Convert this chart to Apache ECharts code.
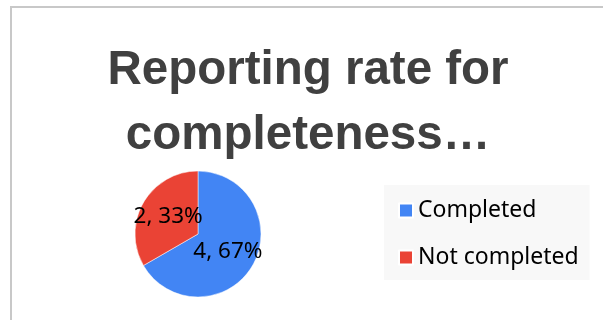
<!DOCTYPE html>
<html>
<head>
<meta charset="utf-8">
<script src="https://cdn.jsdelivr.net/npm/echarts@6/dist/echarts.min.js"></script>
<style>html,body{margin:0;padding:0;background:#fff}#c{width:603px;height:320px}</style>
</head>
<body>
<div id="c"></div>
<script>
var categories = ["Completed", "Not completed"];
var values = [4, 2];
var colors = ["#4285F4", "#EA4335"];
var titleText = "Reporting rate for\ncompleteness\u2026";

var chart = echarts.init(document.getElementById('c'), null, {renderer: 'canvas'});
var total = values.reduce(function (a, b) { return a + b; }, 0);
chart.setOption({
  animation: false,
  backgroundColor: '#ffffff',
  graphic: [{
    type: 'rect', silent: true, z: -1,
    shape: {x: 11, y: 7, width: 620, height: 340},
    style: {fill: 'none', stroke: '#c8c8c8', lineWidth: 2}
  }],
  title: {
    text: titleText,
    left: 308,
    textAlign: 'center',
    top: 38,
    padding: 0,
    textStyle: {
      fontFamily: 'Liberation Sans',
      fontSize: 47.5,
      fontWeight: 'bold',
      lineHeight: 65,
      color: '#404040'
    }
  },
  legend: {
    orient: 'vertical',
    left: 384,
    top: 185,
    backgroundColor: '#f8f8f8',
    padding: [14, 11, 11, 14],
    itemWidth: 14,
    itemHeight: 14,
    itemGap: 24,
    icon: 'rect',
    textStyle: {fontFamily: 'Noto Sans', fontSize: 23, color: '#000000'},
    data: categories
  },
  series: [{
    type: 'pie',
    center: [198, 234],
    radius: [0, 63],
    startAngle: 90,
    clockwise: true,
    itemStyle: {borderColor: '#ffffff', borderWidth: 0.5},
    label: {
      show: true,
      position: 'inside',
      fontFamily: 'Noto Sans',
      fontSize: 22.5,
      color: '#000000',
      formatter: function (p) { return p.value + ', ' + Math.round(p.value / total * 100) + '%'; }
    },
    labelLine: {show: false},
    data: categories.map(function (c, i) {
      return {name: c, value: values[i], itemStyle: {color: colors[i]}};
    })
  }]
});
</script>
</body>
</html>
